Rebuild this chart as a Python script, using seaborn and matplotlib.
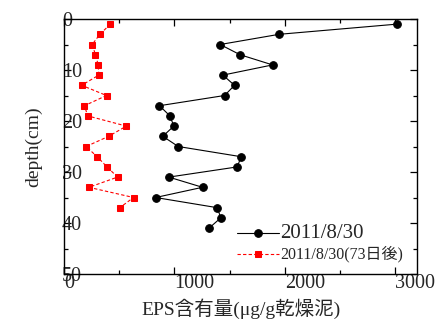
import matplotlib
matplotlib.use("Agg")
import matplotlib.pyplot as plt
from matplotlib.ticker import MultipleLocator
import seaborn as sns
import pandas as pd

# EPS content profile on 2011/8/30
depth_a = [1, 3, 5, 7, 9, 11, 13, 15, 17, 19, 21, 23, 25, 27, 29, 31, 33, 35, 37, 39, 41]
eps_a = [3020, 1950, 1415, 1595, 1890, 1440, 1545, 1455, 865, 960, 995, 895,
         1035, 1605, 1570, 950, 1255, 830, 1390, 1420, 1315]

# EPS content profile 73 days later
depth_b = [1, 3, 5, 7, 9, 11, 13, 15, 17, 19, 21, 23, 25, 27, 29, 31, 33, 35, 37]
eps_b = [420, 325, 255, 285, 310, 315, 160, 385, 185, 215, 565, 405,
         200, 300, 390, 485, 225, 630, 505]

label_a = "2011/8/30"
label_b = "2011/8/30(73日後)"
x_ticks = [0, 1000, 2000, 3000]
y_ticks = [0, 10, 20, 30, 40, 50]

sns.set_style("white")
plt.rcParams["font.family"] = ["Liberation Serif", "Noto Sans CJK JP", "DejaVu Sans"]
plt.rcParams["axes.unicode_minus"] = False

df_a = pd.DataFrame({"eps": eps_a, "depth": depth_a})
df_b = pd.DataFrame({"eps": eps_b, "depth": depth_b})

fig = plt.figure(figsize=(4.4, 3.26), dpi=100)
ax = fig.add_axes([0.1455, 0.1595, 0.8025, 0.7822])

sns.lineplot(data=df_a, x="eps", y="depth", sort=False, estimator=None, ax=ax,
             color="black", linewidth=0.8, marker="o", markersize=5.5,
             markeredgecolor="black", label=label_a)
sns.lineplot(data=df_b, x="eps", y="depth", sort=False, estimator=None, ax=ax,
             color="red", linewidth=0.8, linestyle=(0, (3, 2)), marker="s",
             markersize=5, markeredgecolor="red", label=label_b)

ax.set_xlim(0, 3200)
ax.set_ylim(50, 0)
ax.set_xticks(x_ticks)
ax.set_yticks(y_ticks)
ax.xaxis.set_minor_locator(MultipleLocator(500))
ax.yaxis.set_minor_locator(MultipleLocator(5))

for sp in ax.spines.values():
    sp.set_color("black")
    sp.set_linewidth(1.0)

ax.tick_params(which="both", direction="in", top=True, right=True,
               bottom=True, left=True, color="black", width=0.9)
ax.tick_params(which="major", length=5)
ax.tick_params(which="minor", length=2.8)
ax.tick_params(axis="x", which="major", labelsize=14.5, pad=0)
ax.tick_params(axis="y", which="major", labelsize=14.5, pad=1.5)
for t in ax.get_xticklabels():
    t.set_ha("left")
for t in ax.get_yticklabels():
    t.set_ha("left")

ax.set_xlabel("EPS含有量(μg/g乾燥泥)", fontsize=14, labelpad=4)
ax.set_ylabel("depth(cm)", fontsize=14)
ax.yaxis.set_label_coords(-0.062, 0.5)

leg = ax.legend(loc="upper left", bbox_to_anchor=(0.49, 0.195), frameon=False,
                handlelength=3.0, handletextpad=0.1, labelspacing=0.2,
                borderpad=0, borderaxespad=0)
texts = leg.get_texts()
texts[0].set_fontsize(15)
texts[1].set_fontsize(11.5)

fig.savefig("out.png", dpi=100)
